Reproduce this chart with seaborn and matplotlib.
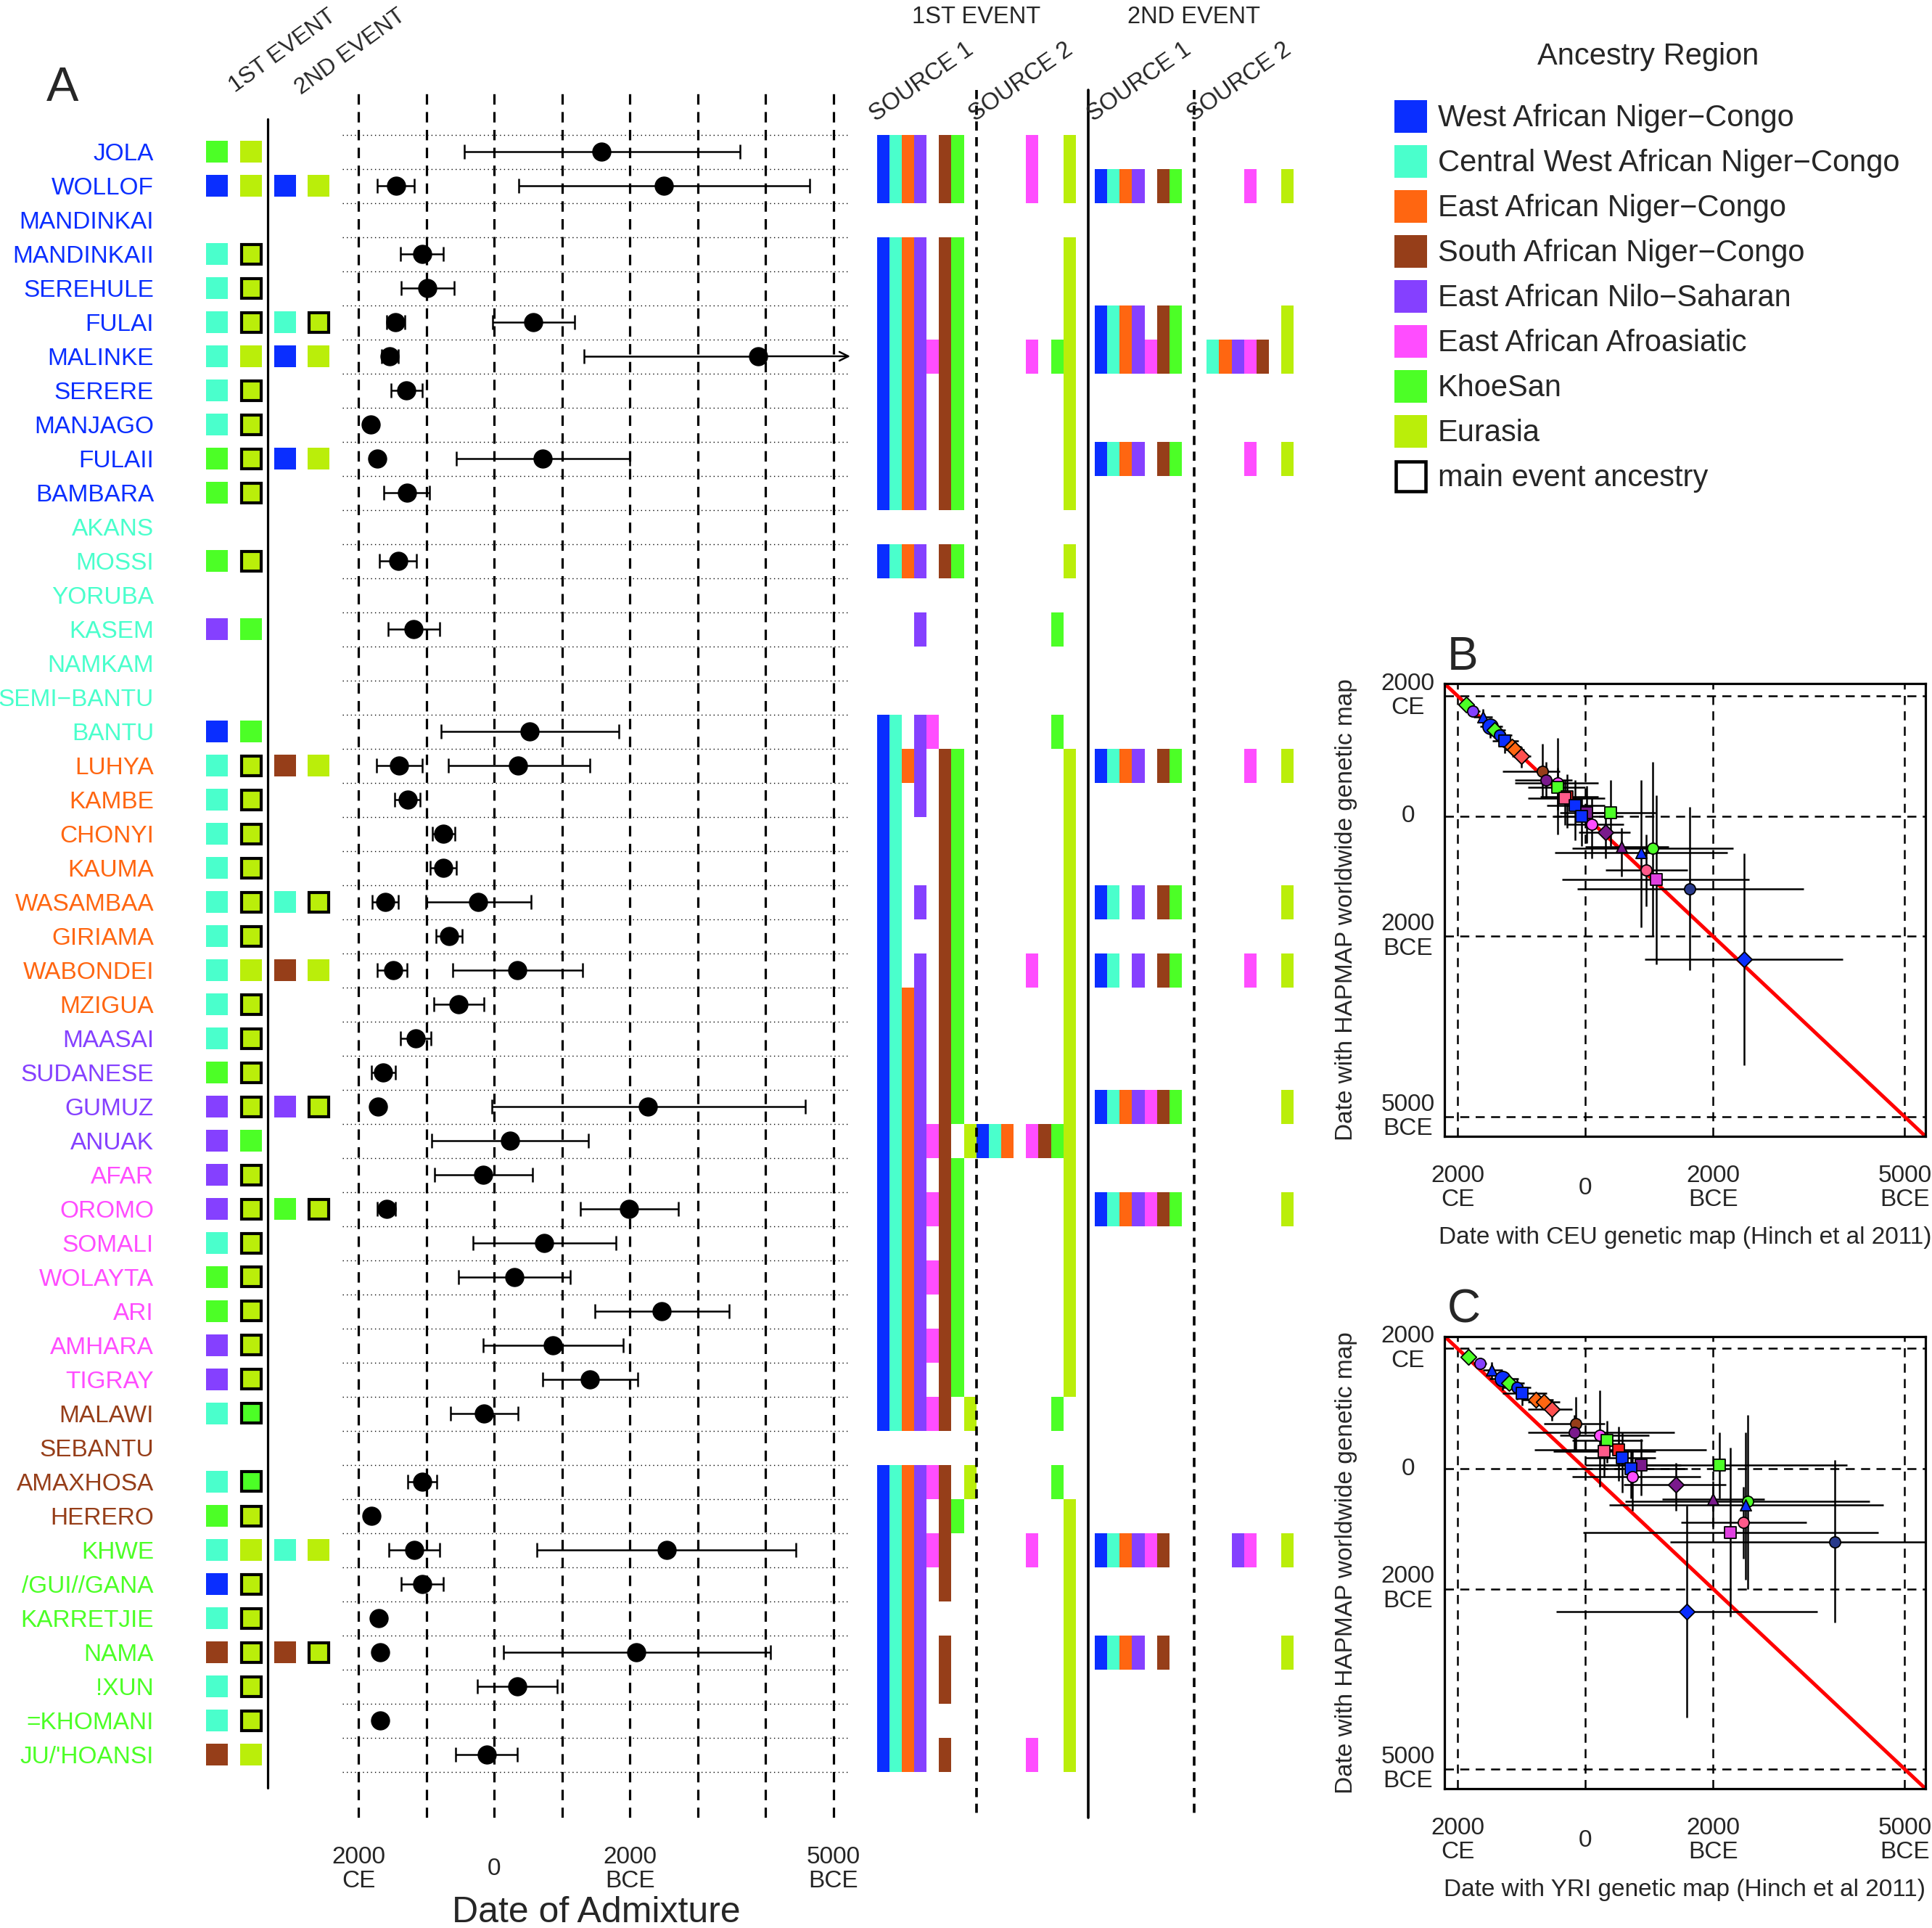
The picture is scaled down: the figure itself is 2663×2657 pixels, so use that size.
import numpy as np
import matplotlib
matplotlib.use("Agg")
import matplotlib.pyplot as plt
import matplotlib.transforms as mtransforms
from matplotlib.colors import ListedColormap
from matplotlib.patches import Rectangle
import seaborn as sns

# ---------------- data ----------------
populations = ["JOLA", "WOLLOF", "MANDINKAI", "MANDINKAII", "SEREHULE", "FULAI", "MALINKE",
               "SERERE", "MANJAGO", "FULAII", "BAMBARA", "AKANS", "MOSSI", "YORUBA", "KASEM",
               "NAMKAM", "SEMI\u2212BANTU", "BANTU", "LUHYA", "KAMBE", "CHONYI", "KAUMA",
               "WASAMBAA", "GIRIAMA", "WABONDEI", "MZIGUA", "MAASAI", "SUDANESE", "GUMUZ",
               "ANUAK", "AFAR", "OROMO", "SOMALI", "WOLAYTA", "ARI", "AMHARA", "TIGRAY",
               "MALAWI", "SEBANTU", "AMAXHOSA", "HERERO", "KHWE", "/GUI//GANA", "KARRETJIE",
               "NAMA", "!XUN", "=KHOMANI", "JU/'HOANSI"]
# region code of each population label
pop_region = "bbbbbbbbbbb" "ccccccc" "oooooooo" "pppp" "kkkkkkk" "rrrr" "ggggggg"

region_colors = {"b": "#0A2EFF", "c": "#4AFFCC", "o": "#FF6611", "r": "#963E19",
                 "p": "#8540FF", "k": "#FF4DFF", "g": "#4CFF26", "e": "#BAEE0A"}
legend_order = ["b", "c", "o", "r", "p", "k", "g", "e"]
region_names = {"b": "West African Niger\u2212Congo", "c": "Central West African Niger\u2212Congo",
                "o": "East African Niger\u2212Congo", "r": "South African Niger\u2212Congo",
                "p": "East African Nilo\u2212Saharan", "k": "East African Afroasiatic",
                "g": "KhoeSan", "e": "Eurasia"}
bar_order = "bcopkrge"

# ancestry of the two admixing groups (upper case = main event ancestry)
event1_anc = ["ge", "be", "", "cE", "cE", "cE", "ce", "cE", "cE", "gE", "gE", "", "gE", "",
              "pg", "", "", "bg", "cE", "cE", "cE", "cE", "cE", "cE", "ce", "cE", "cE", "gE",
              "pE", "pg", "pE", "pE", "cE", "gE", "gE", "pE", "pE", "cG", "", "cG", "gE",
              "ce", "bE", "cE", "rE", "cE", "cE", "re"]
event2_anc = {1: "be", 5: "cE", 6: "be", 9: "be", 18: "re", 22: "cE", 24: "re", 28: "pE",
              31: "gE", 41: "ce", 44: "rE"}

# admixture dates (years BCE, negative = CE): estimate, lower, upper
nan, inf = np.nan, np.inf
date1_mid = [1579, -1451, nan, -1067, -990, -1462, -1544, -1297, -1821, -1723, -1292, nan,
             -1421, nan, -1190, nan, nan, 523, -1405, -1277, -749, -754, -1610, -672, -1492,
             -528, -1154, -1636, -1713, 231, -164, -1590, 738, 292, 2472, 867, 1410, -149,
             nan, -1062, -1815, -1185, -1062, -1708, -1687, 344, -1687, -113]
date1_lo = [-446, -1723, nan, -1379, -1374, -1585, -1662, -1518, nan, nan, -1631, nan,
            -1692, nan, -1569, nan, nan, -790, -1733, -1467, -913, -944, -1800, -862, -1723,
            -892, -1385, -1810, nan, -923, -882, -1723, -313, -523, 1487, -159, 708, -651,
            nan, -1272, nan, -1559, -1374, nan, nan, -246, nan, -574]
date1_hi = [3621, -1179, nan, -749, -595, -1323, -1415, -1067, nan, nan, -954, nan,
            -1144, nan, -810, nan, nan, 1841, -1067, -1092, -579, -559, -1421, -477, -1287,
            -149, -933, -1456, nan, 1385, 559, -1456, 1795, 1123, 3467, 1897, 2113, 349,
            nan, -846, nan, -805, -749, nan, nan, 923, nan, 344]
date2_rows = [1, 5, 6, 9, 18, 22, 24, 28, 31, 41, 44]
date2_mid = [2503, 574, 3892, 713, 354, -241, 338, 2267, 1990, 2538, 2097]
date2_lo = [364, -21, 1323, -559, -677, -1010, -610, -31, 1272, 631, 133]
date2_hi = [4656, 1185, inf, 2000, 1405, 544, 1303, 4585, 2718, 4451, 4072]

# ancestry make-up of the admixing sources
src1_ev1 = ["bcoprg", "bcoprg", "", "bcoprg", "bcoprg", "bcoprg", "bcopkrg", "bcoprg",
            "bcoprg", "bcoprg", "bcoprg", "", "bcoprg", "", "p", "", "", "bcpk", "bcoprg",
            "bcprg", "bcrg", "bcrg", "bcprg", "bcrg", "bcprg", "bcoprg", "bcoprg", "bcoprg",
            "bcoprg", "bcopkre", "bcoprg", "bcopkrg", "bcoprg", "bcopkrg", "bcoprg",
            "bcopkrg", "bcoprg", "bcopkre", "", "bcopkre", "bcoprg", "bcopkr", "bcopr",
            "bcop", "bcopr", "bcopr", "bcop", "bcopr"]
src2_ev1 = ["ke", "ke", "", "e", "e", "e", "kge", "e", "e", "e", "e", "", "e", "", "g", "",
            "", "g", "e", "e", "e", "e", "e", "e", "ke", "e", "e", "e", "e", "bcokrge", "e",
            "e", "e", "e", "e", "e", "e", "g", "", "g", "e", "ke", "e", "e", "e", "e", "e", "ke"]
src1_ev2 = {1: "bcoprg", 5: "bcoprg", 6: "bcopkrg", 9: "bcoprg", 18: "bcoprg", 22: "bcprg",
            24: "bcprg", 28: "bcopkrg", 31: "bcopkrg", 41: "bcopkr", 44: "bcopr"}
src2_ev2 = {1: "ke", 5: "e", 6: "copkre", 9: "ke", 18: "ke", 22: "e", 24: "ke", 28: "e",
            31: "e", 41: "pke", 44: "e"}

# panels B and C: dates under different genetic maps
bc_marker = ["D", "o", "^", "o", "D", "o", "s", "D", "D", "D", "o", "o", "o", "s", "s", "s",
             "s", "s", "s", "o", "D", "^", "o", "^", "o", "s", "o", "D", "s"]
bc_color = ["#4CFF26", "#8540FF", "#0A2EFF", "#0A2EFF", "#4CFF26", "#0A2EFF", "#0A2EFF",
            "#FF6611", "#FF6611", "#FF5050", "#963E19", "#7A1A8C", "#FF4DFF", "#4CFF26",
            "#FF2020", "#FF5A8A", "#0A2EFF", "#7A1A8C", "#0A2EFF", "#FF4DFF", "#7A1A8C",
            "#7A1A8C", "#4CFF26", "#0A2EFF", "#FF5A8A", "#E040E0", "#283A8C", "#0A2EFF",
            "#4CFF26"]
bc_big = [3]
hapmap = [-1860, -1748, -1647, -1495, -1430, -1353, -1252, -1150, -1110, -995, -746, -604,
          -557, -476, -317, -294, -179, -58, 3, 131, 267, 510, 540, 601, 898, 1056, 1215,
          2382, -61]
hapmap_lo = [-1900, -1810, -1780, -1620, -1560, -1500, -1400, -1250, -1200, -1150, -1200,
             -900, -1300, -800, -700, -600, -600, -500, -300, -300, -100, 200, -900, -600,
             300, -350, -150, 620, -600]
hapmap_hi = [-1820, -1690, -1500, -1300, -1300, -1150, -1050, -1050, -1000, -800, -300, -300,
             300, -100, 200, 150, 400, 450, 500, 700, 700, 1000, 2000, 1850, 1500, 2460, 2560,
             4140, 500]
ceu = [-1862, -1756, -1606, -1494, -1420, -1337, -1256, -1150, -1100, -1006, -675, -619, -431,
       -431, -290, -319, -162, 25, -56, 100, 319, 569, 1056, 869, 950, 1106, 1637, 2481, 400]
ceu_lo = [-1950, -1850, -1750, -1650, -1550, -1500, -1450, -1300, -1250, -1150, -1300, -1100,
          -1100, -900, -700, -900, -600, -400, -500, -300, -100, 0, -206, -475, 319, -369,
          -131, 931, 0]
ceu_hi = [-1780, -1650, -1450, -1300, -1250, -1150, -1050, -1000, -950, -850, -400, -200, 200,
          0, 200, 300, 300, 500, 400, 600, 700, 1300, 2319, 2225, 1600, 2569, 3418, 4025, 1100]
yri = [-1831, -1650, -1469, -1300, -1194, -1069, -988, -769, -644, -525, -144, -175, 225, 338,
       525, 294, 575, 869, 713, 738, 1413, 1994, 2544, 2513, 2475, 2269, 3900, 1588, 2100]
yri_lo = [-1900, -1750, -1600, -1500, -1400, -1300, -1300, -1000, -900, -900, -650, -900, -400,
          -200, -800, -500, 0, 300, -300, -200, 600, 1200, 619, 369, 1494, -37, 1325, -456, 0]
yri_hi = [-1760, -1550, -1300, -1050, -950, -850, -600, -500, -400, -200, 300, 1400, 1000, 900,
          1900, 1100, 1100, 1500, 1600, 1800, 2200, 2800, 4450, 4663, 3463, 4588, 5400, 3631,
          4100]

# ---------------- figure ----------------
sns.set_style("white")
plt.rcParams["font.family"] = ["Liberation Sans", "DejaVu Sans"]

W, H = 2663, 2657
fig = plt.figure(figsize=(W / 100, H / 100), dpi=100)


def px_axes(x0, y0, x1, y1):
    return fig.add_axes([x0 / W, 1 - y1 / H, (x1 - x0) / W, (y1 - y0) / H])


ROW0, ROWH = 209, 47


def row_lim(y0, y1):
    return ((y1 - ROW0) / ROWH, (y0 - ROW0) / ROWH)


rows = np.arange(len(populations))

# overlay in pixel units for headers, separators and legend
ax_ov = px_axes(0, 0, W, H)
ax_ov.set_xlim(0, W)
ax_ov.set_ylim(H, 0)
ax_ov.axis("off")
ax_ov.set_zorder(10)

# --- labels and event ancestry squares
ax_l = px_axes(0, 123, 470, 2505)
ax_l.set_xlim(0, 470)
ax_l.set_ylim(*row_lim(123, 2505))
ax_l.axis("off")
for r, name in enumerate(populations):
    ax_l.text(212, r + 0.26, name, ha="right", va="baseline", fontsize=24,
              color=region_colors[pop_region[r]])

square_x = [299, 346, 393, 439]


def draw_square(xc, r, code):
    col = region_colors[code.lower()]
    if code.isupper():
        s = 27
        ax_l.add_patch(Rectangle((xc - s / 2, r - s / 2 / ROWH), s, s / ROWH,
                                 facecolor=col, edgecolor="k", lw=3))
    else:
        s = 30
        ax_l.add_patch(Rectangle((xc - s / 2, r - s / 2 / ROWH), s, s / ROWH,
                                 facecolor=col, edgecolor="none"))


for r in rows:
    for k, code in enumerate(event1_anc[r]):
        draw_square(square_x[k], r, code)
for r, codes in event2_anc.items():
    for k, code in enumerate(codes):
        draw_square(square_x[2 + k], r, code)

ax_ov.plot([369, 369], [164, 2464], color="k", lw=2.3)
ax_ov.text(64, 139, "A", fontsize=48, ha="left", va="baseline")
ax_ov.text(324, 128, "1ST EVENT", fontsize=23, rotation=36, rotation_mode="anchor",
           ha="left", va="baseline")
ax_ov.text(415, 131, "2ND EVENT", fontsize=23, rotation=36, rotation_mode="anchor",
           ha="left", va="baseline")

# --- admixture dates
ax_d = px_axes(472, 123, 1172, 2505)
ax_d.set_xlim(-2240, 5250)
ax_d.set_ylim(*row_lim(123, 2505))
ax_d.axis("off")
for v in [-2000, -1000, 0, 1000, 2000, 3000, 4000, 5000]:
    ax_d.axvline(v, color="k", lw=2.3, ls=(0, (4.5, 3.2)), zorder=1)
for b in np.arange(-0.5, len(populations)):
    ax_d.axhline(b, color="k", lw=1.0, ls=(0, (1, 3)), zorder=1)


def draw_dates(rr, mid, lo, hi):
    rr = np.asarray(rr, float)
    mid = np.asarray(mid, float)
    lo = np.asarray(lo, float)
    hi = np.asarray(hi, float)
    ok = ~np.isnan(mid)
    lo = np.where(np.isnan(lo), mid, lo)
    hi = np.where(np.isnan(hi), mid, hi)
    open_end = np.isinf(hi)
    up = np.where(open_end, 0, hi - mid)
    ax_d.errorbar(mid[ok], rr[ok], xerr=[(mid - lo)[ok], up[ok]], fmt="o", ms=18,
                  color="k", ecolor="k", elinewidth=1.8, capsize=7, capthick=1.8, zorder=3)
    for m, r in zip(mid[open_end], rr[open_end]):
        ax_d.annotate("", xy=(ax_d.get_xlim()[1], r), xytext=(m, r),
                      arrowprops=dict(arrowstyle="->", lw=1.8, color="k",
                                      mutation_scale=22, shrinkA=0, shrinkB=0))


draw_dates(rows, date1_mid, date1_lo, date1_hi)
draw_dates(date2_rows, date2_mid, date2_lo, date2_hi)

tr_d = mtransforms.blended_transform_factory(ax_d.transData, ax_ov.transData)
for v, lab in [(-2000, "2000\nCE"), (0, "0"), (2000, "2000\nBCE"), (5000, "5000\nBCE")]:
    ax_d.text(v, 2576, lab, transform=tr_d, ha="center", va="center", fontsize=24,
              multialignment="center", linespacing=1.1)
ax_ov.text(822, 2636, "Date of Admixture", ha="center", va="center", fontsize=36)

# --- source make-up heatmaps
cmap = ListedColormap([region_colors[c] for c in bar_order])


def source_matrix(s1, s2):
    mat = np.full((len(populations), 16), np.nan)
    for r in rows:
        a = s1.get(r, "") if isinstance(s1, dict) else s1[r]
        b = s2.get(r, "") if isinstance(s2, dict) else s2[r]
        for j, c in enumerate(bar_order):
            if c in a:
                mat[r, j] = j
            if c in b:
                mat[r, 8 + j] = j
    return mat


for (x0, x1), s1, s2 in [((1208.6, 1482.8), src1_ev1, src2_ev1),
                         ((1509, 1783.2), src1_ev2, src2_ev2)]:
    ax_h = px_axes(x0, 185.5, x1, 2441.5)
    sns.heatmap(source_matrix(s1, s2), ax=ax_h, cmap=cmap, vmin=-0.5, vmax=7.5,
                cbar=False, xticklabels=False, yticklabels=False)
    ax_h.axis("off")

ax_ov.plot([1345.7, 1345.7], [124, 2505], color="k", lw=2.6, ls=(0, (3.5, 2.5)))
ax_ov.plot([1500, 1500], [124, 2505], color="k", lw=2.6)
ax_ov.plot([1646, 1646], [124, 2505], color="k", lw=2.6, ls=(0, (3.5, 2.5)))
ax_ov.text(1346, 24, "1ST EVENT", fontsize=23.5, ha="center", va="center")
ax_ov.text(1646, 24, "2ND EVENT", fontsize=23.5, ha="center", va="center")
for x, lab in [(1207, "SOURCE 1"), (1344, "SOURCE 2"), (1507, "SOURCE 1"), (1645, "SOURCE 2")]:
    ax_ov.text(x, 168, lab, fontsize=23.5, rotation=35, rotation_mode="anchor",
               ha="left", va="baseline")

# --- legend
ax_ov.text(2272, 78, "Ancestry Region", fontsize=30, ha="center", va="center")
for i, c in enumerate(legend_order):
    y = 160 + 62 * i
    ax_ov.add_patch(Rectangle((1922, y - 22.5), 45, 45, facecolor=region_colors[c],
                              edgecolor="none"))
    ax_ov.text(1982, y + 14, region_names[c], fontsize=30, ha="left", va="baseline")
y = 160 + 62 * 8
ax_ov.add_patch(Rectangle((1924, y - 20.5), 41, 41, facecolor="none", edgecolor="k", lw=3.3))
ax_ov.text(1982, y + 14, "main event ancestry", fontsize=30, ha="left", va="baseline")


# --- panels B and C
def compare_panel(box, xv, xlo, xhi, xlabel, letter):
    ax = px_axes(*box)
    lim = (-2204, 5324)
    ax.set_xlim(lim)
    ax.set_ylim(lim[1], lim[0])
    ax.set_xticks([])
    ax.set_yticks([])
    for s in ax.spines.values():
        s.set_color("k")
        s.set_linewidth(2.3)
    for v in [-2000, 0, 2000, 5000]:
        ax.axvline(v, color="k", lw=1.8, ls=(0, (5, 3.5)), zorder=1)
        ax.axhline(v, color="k", lw=1.8, ls=(0, (5, 3.5)), zorder=1)
    ax.axline((0, 0), slope=1, color="red", lw=3.6, zorder=2)
    xv = np.asarray(xv, float)
    yv = np.asarray(hapmap, float)
    ax.errorbar(xv, yv, xerr=[xv - np.asarray(xlo), np.asarray(xhi) - xv],
                yerr=[yv - np.asarray(hapmap_lo), np.asarray(hapmap_hi) - yv],
                fmt="none", ecolor="k", elinewidth=1.8, zorder=3)
    for i in range(len(xv)):
        ax.scatter(xv[i], yv[i], marker=bc_marker[i], c=bc_color[i], edgecolors="k",
                   linewidths=1.3, s=230 if i in bc_big else 120, zorder=4)
    tx = mtransforms.blended_transform_factory(ax.transData, ax.transAxes)
    ty = mtransforms.blended_transform_factory(ax.transAxes, ax.transData)
    labs = [(-2000, "2000\nCE"), (0, "0"), (2000, "2000\nBCE"), (5000, "5000\nBCE")]
    for v, lab in labs:
        ax.text(v, -0.114, lab, transform=tx, ha="center", va="center", fontsize=24,
                multialignment="center", linespacing=1.1)
        ax.text(-0.076, v, lab, transform=ty, ha="center", va="center", fontsize=24,
                multialignment="center", linespacing=1.1)
    ax.text(0.5, -0.223, xlabel, transform=ax.transAxes, ha="center", va="center",
            fontsize=24)
    ax.text(-0.205, 0.5, "Date with HAPMAP worldwide genetic map", transform=ax.transAxes,
            rotation=90, ha="center", va="center", fontsize=24)
    ax.text(0.006, 1.01, letter, transform=ax.transAxes, ha="left", va="bottom", fontsize=46)
    return ax


compare_panel((1991, 942, 2654, 1566), ceu, ceu_lo, ceu_hi,
              "Date with CEU genetic map (Hinch et al 2011)", "B")
compare_panel((1991, 1841.5, 2654, 2465), yri, yri_lo, yri_hi,
              "Date with YRI genetic map (Hinch et al 2011)", "C")

fig.savefig("out.png", dpi=100)
